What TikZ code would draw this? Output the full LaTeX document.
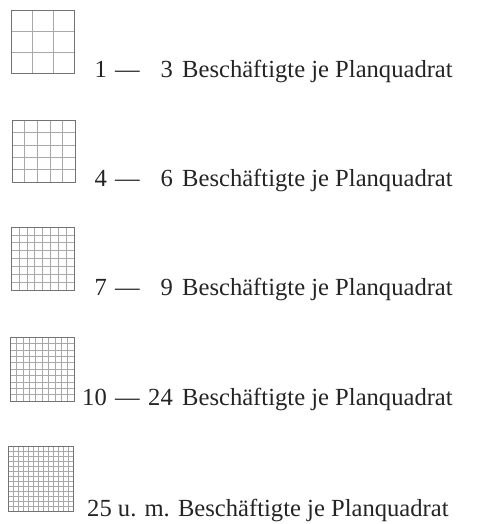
\documentclass[tikz,border=0pt]{standalone}
\usepackage{fontspec}
\setmainfont{Liberation Serif}
\definecolor{gridborder}{gray}{0.45}
\definecolor{gridinner}{gray}{0.66}
\definecolor{txt}{gray}{0.14}
\begin{document}
\begin{tikzpicture}[x=1pt,y=1pt,
  lab/.style={inner sep=0pt, text=txt, font=\fontsize{24.6}{30}\selectfont},
  border/.style={draw=gridborder, line width=0.9pt},
  inner/.style={draw=gridinner, line width=0.5pt}]
\useasboundingbox (0,0) rectangle (485,524);
\foreach \k/\n/\xl/\xr/\yt/\yb in {1/3/11/74/10/73, 2/5/12/75/120/182, 3/8/11/74/227/290, 4/10/10/74/337/401, 5/13/8/73/446/511}{
  \pgfmathtruncatemacro\nm{\n-1}
  \foreach \j in {1,...,\nm}{
    \draw[inner] ({\xl+\j*(\xr-\xl)/\n},{524-\yt}) -- ({\xl+\j*(\xr-\xl)/\n},{524-\yb});
    \draw[inner] (\xl,{524-\yt-\j*(\yb-\yt)/\n}) -- (\xr,{524-\yt-\j*(\yb-\yt)/\n});
  }
  \node[border, inner sep=0pt, minimum width={(\xr-\xl)*1pt}, minimum height={(\yb-\yt)*1pt}, anchor=north west] (g\k) at (\xl,{524-\yt}) {};
}
\foreach \k/\a/\b/\yb in {1/1/3/78, 2/4/6/187, 3/7/9/296, 4/10/24/406}{
  \node[lab, anchor=base east] (a\k) at (107,{524-\yb}) {\a};
  \node[lab, anchor=base west] (d\k) at (115,{524-\yb}) {—};
  \node[lab, anchor=base east] (b\k) at (173,{524-\yb}) {\b};
  \node[lab, anchor=base west] (t\k) at (182,{524-\yb}) {Beschäftigte je Planquadrat};
}
\node[lab, anchor=base west] (t5) at (87,{524-516}) {25 u. m. Beschäftigte je Planquadrat};
\end{tikzpicture}
\end{document}
